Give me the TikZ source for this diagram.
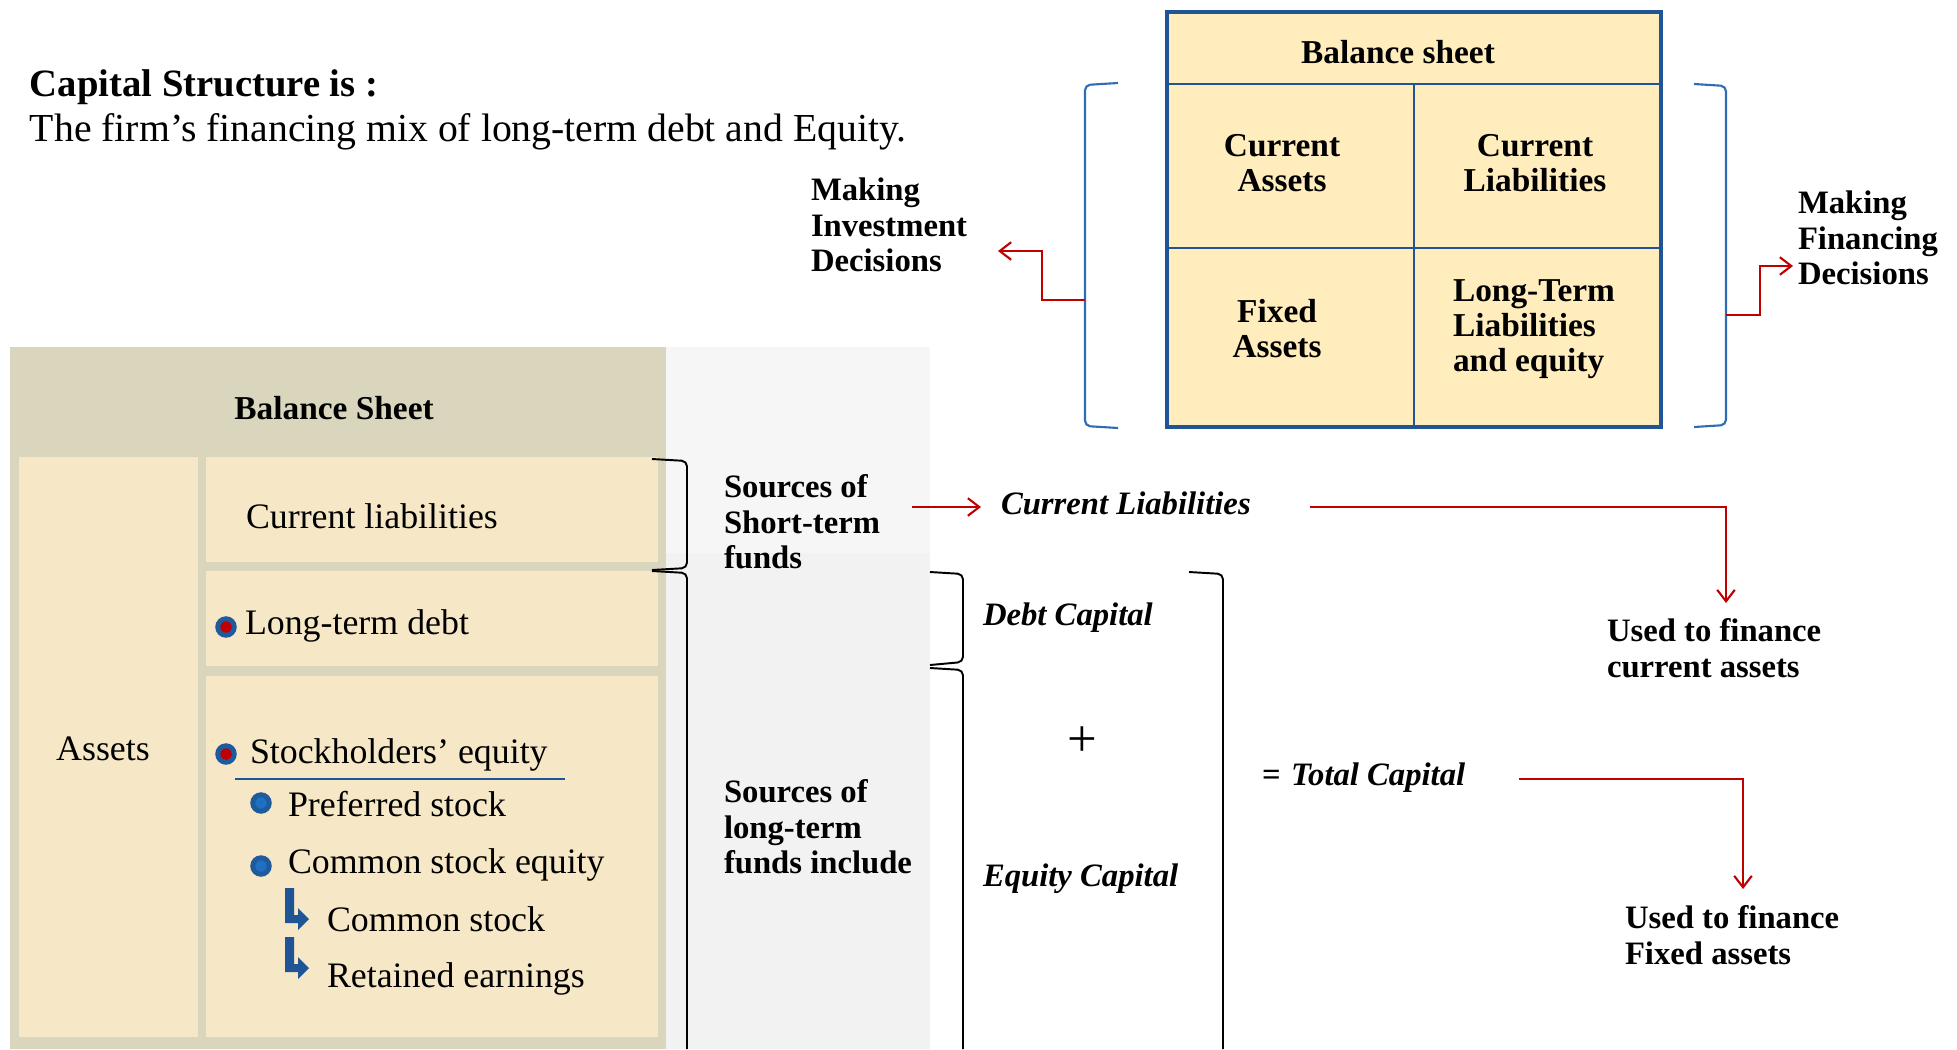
\documentclass[tikz,border=0pt]{standalone}
\usepackage{fontspec}
\setmainfont{Liberation Serif}
\usetikzlibrary{arrows.meta}
\definecolor{boxfill}{HTML}{FFEDBD}
\definecolor{boxblue}{HTML}{1F5597}
\definecolor{brblue}{HTML}{2E6DB4}
\definecolor{redc}{HTML}{C00000}
\definecolor{tanbg}{HTML}{D9D6BD}
\definecolor{cellc}{HTML}{F6E8C6}
\definecolor{grayp}{HTML}{F2F2F2}
\definecolor{grayq}{HTML}{F6F6F6}
\definecolor{bulblue}{HTML}{1F5A9C}
\definecolor{bulin}{HTML}{1F70C2}
\newcommand{\fsz}[2]{\fontsize{#1pt}{#2pt}\selectfont}
\begin{document}
\begin{tikzpicture}[x=0.02cm,y=-0.02cm,
  lbl/.style={inner sep=0pt, outer sep=0pt, align=left, text=black},
  boldlbl/.style={lbl, font=\fsz{18.6}{20.2}\bfseries},
  bsl/.style={lbl, anchor=base west, font=\fsz{20.4}{24}},
  boxlbl/.style={lbl, font=\fsz{19}{20}\bfseries},
  redline/.style={draw=redc, line width=1.2pt},
  redarrow/.style={redline, -{Straight Barb[length=6.5pt,width=10pt,line width=1.2pt]}},
  blkbr/.style={draw=black, line width=1.1pt, rounded corners=3pt},
  bluebr/.style={draw=brblue, line width=1.2pt, rounded corners=3pt},
  bulr/.style={circle, inner sep=0pt, minimum size=9.4pt, draw=bulblue, line width=2.8pt, fill=redc},
  bulb/.style={circle, inner sep=0pt, minimum size=9.4pt, draw=bulblue, line width=2.8pt, fill=bulin}]
\useasboundingbox (0,0) rectangle (1957,1049);
\fill[white] (0,0) rectangle (1957,1049);

% title
\node[lbl, anchor=west, font=\fsz{22}{24}\bfseries] (title) at (30,87) {Capital Structure is :};
\node[lbl, anchor=west, font=\fsz{22.6}{26}] (subtitle) at (30,132) {The firm’s financing mix of long-term debt and Equity.};

% bottom-left balance sheet panel
\fill[grayp] (666,347) rectangle (930,1049);
\fill[grayq] (666,347) rectangle (930,553);
\fill[tanbg] (10,347) rectangle (666,1049);
\fill[cellc] (19,457) rectangle (198,1037);
\fill[cellc] (206,457) rectangle (658,562);
\fill[cellc] (206,571) rectangle (658,666);
\fill[cellc] (206,676) rectangle (658,1037);

\node[lbl, anchor=base, font=\fsz{19}{22}\bfseries] (bshead) at (334,419) {Balance Sheet};
\node[bsl] (cl) at (246,528) {Current liabilities};
\node[bsl] (ltd) at (245,634) {Long-term debt};
\node[bsl, anchor=base] (assets) at (103,760) {Assets};
\node[bsl] (se) at (250,763) {Stockholders’ equity};
\node[bsl] (ps) at (288,816) {Preferred stock};
\node[bsl] (cse) at (288,873) {Common stock equity};
\node[bsl] (cs) at (327,931) {Common stock};
\node[bsl] (re) at (327,987) {Retained earnings};

\node[bulr] (d1) at (226,627) {};
\node[bulr] (d2) at (226,754) {};
\node[bulb] (d3) at (261,803) {};
\node[bulb] (d4) at (261,866) {};
\draw[boxblue, line width=1.3pt] (235,779) -- (565,779);
\foreach \yy in {888,937}
  \fill[boxblue] (285,\yy) -- ++(9,0) -- ++(0,27) -- ++(4,0) -- ++(0,-7) -- ++(11,11) -- ++(-11,11) -- ++(0,-7) -- ++(-13,0) -- cycle;

% black brackets
\draw[blkbr] (652,459) -- (687,461) -- (687,568) -- (652,570);
\draw[blkbr] (652,571) -- (687,573) -- (687,1049);
\draw[blkbr] (930,572) -- (963,574) -- (963,662) -- (930,665);
\draw[blkbr] (930,668) -- (963,670) -- (963,1049);
\draw[blkbr] (1189,572) -- (1223,574) -- (1223,1049);

% middle texts
\node[boldlbl, anchor=west] (srcst) at (724,522) {Sources of\\Short-term\\funds};
\node[boldlbl, anchor=west] (srclt) at (724,827) {Sources of\\long-term\\funds include};
\node[boldlbl, anchor=west, font=\fsz{18.6}{20.2}\bfseries\itshape] (curl) at (1001,503) {Current Liabilities};
\node[boldlbl, anchor=west, font=\fsz{18.6}{20.2}\bfseries\itshape] (debt) at (983,618) {Debt Capital};
\node[boldlbl, anchor=west, font=\fsz{18.6}{20.2}\bfseries\itshape] (equity) at (983,879) {Equity Capital};
\node[lbl, font=\fsz{30}{32}] (plus) at (1082,742) {+};
\node[boldlbl, anchor=west] (total) at (1262,778) {=\hspace{6pt}\textit{Total Capital}};
\node[boldlbl, anchor=west] (usedca) at (1607,648) {Used to finance\\current assets};
\node[boldlbl, anchor=west] (usedfa) at (1625,935) {Used to finance\\Fixed assets};

% red connectors
\coordinate (st1) at (912,507);
\coordinate (st2) at (981,507);
\draw[redarrow] (st1) -- (st2);
\coordinate (cl1) at (1310,507);
\coordinate (cl2) at (1726,603);
\draw[redarrow] (cl1) -| (cl2);
\coordinate (tc1) at (1519,779);
\coordinate (tc2) at (1743,889);
\draw[redarrow] (tc1) -| (tc2);

% top-right balance sheet
\fill[boxfill] (1167,12) rectangle (1661,427);
\draw[boxblue, line width=1.7pt] (1167,84) -- (1661,84);
\draw[boxblue, line width=1.3pt] (1167,248) -- (1661,248);
\draw[boxblue, line width=1.3pt] (1414,84) -- (1414,427);
\draw[boxblue, line width=2.8pt] (1167,12) rectangle (1661,427);
\node[boxlbl] (bst) at (1398,52) {Balance sheet};
\node[boxlbl, align=center] (ca) at (1282,163) {Current\\Assets};
\node[boxlbl, align=center] (cli) at (1535,163) {Current\\Liabilities};
\node[boxlbl, align=center] (fa) at (1277,329) {Fixed\\Assets};
\node[boxlbl, anchor=west] (ltl) at (1453,329) {Long-Term\\Liabilities\\and equity};

% blue brackets
\draw[bluebr] (1118,83) -- (1085,85) -- (1085,426) -- (1118,428);
\draw[bluebr] (1694,84) -- (1726,86) -- (1726,425) -- (1694,427);
\node[boldlbl, anchor=west] (inv) at (811,225) {Making\\Investment\\Decisions};
\node[boldlbl, anchor=west] (fin) at (1798,238) {Making\\Financing\\Decisions};
\coordinate (lbm) at (1085,300);
\coordinate (invtip) at (998,251);
\draw[redarrow] (lbm) -- (1042,300) |- (invtip);
\coordinate (rbm) at (1726,315);
\coordinate (fintip) at (1793,266);
\draw[redarrow] (rbm) -- (1760,315) |- (fintip);
\end{tikzpicture}
\end{document}
